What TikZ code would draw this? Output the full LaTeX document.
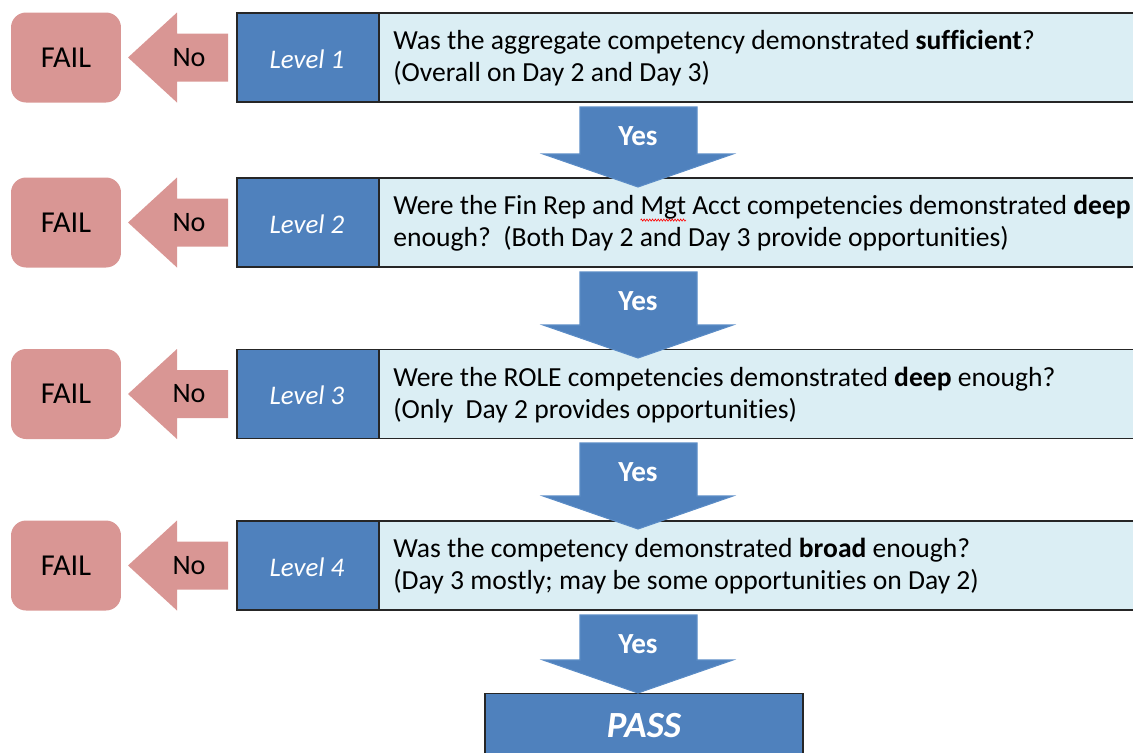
\documentclass[tikz,border=0pt]{standalone}
\usepackage{fontspec}
\setmainfont{Carlito}[Ligatures=NoCommon]
\usetikzlibrary{decorations.pathmorphing}
\newsavebox\wavebox
\newcommand\redwave[1]{\leavevmode\sbox\wavebox{#1}\rlap{\tikz[x=1pt,y=1pt,baseline=0pt,overlay]\draw[red,line width=0.35pt,decorate,decoration={zigzag,amplitude=0.6pt,segment length=1.6pt}] (0pt,-3pt) -- (\the\wd\wavebox,-3pt);}\usebox\wavebox}
\definecolor{levelblue}{HTML}{4F81BD}
\definecolor{qblue}{HTML}{DBEEF4}
\definecolor{failpink}{HTML}{D99694}
\definecolor{yesedge}{HTML}{5B8CC6}
\tikzset{
  levelbox/.style={draw=black!85, line width=0.8pt, fill=levelblue, minimum width=2.84cm, minimum height=1.78cm, inner sep=0pt},
  leveltext/.style={text=white, inner sep=0pt, font=\fontsize{15.3}{18}\selectfont\itshape},
  qbox/.style={draw=black!85, line width=0.8pt, fill=qblue, anchor=west, minimum width=15.2cm, minimum height=1.78cm, inner sep=0pt},
  qtext/.style={anchor=west, align=left, inner sep=0pt, font=\fontsize{15.7}{18.2}\selectfont},
  failbox/.style={fill=failpink, rounded corners=0.3cm, minimum width=2.2cm, minimum height=1.8cm, inner sep=0pt, font=\fontsize{17.3}{20}\selectfont},
  noarrow/.style={fill=failpink},
  notext/.style={font=\fontsize{16}{19}\selectfont, inner sep=0pt},
  yesarrow/.style={fill=levelblue, draw=yesedge, line width=0.6pt, line join=miter},
  yestext/.style={font=\fontsize{16.6}{19}\selectfont\bfseries, text=white, inner sep=0pt},
  passbox/.style={draw=black!85, line width=0.8pt, fill=levelblue, anchor=north, minimum width=6.36cm, minimum height=1.4cm, inner sep=0pt},
}
\begin{document}
\begin{tikzpicture}[x=0.02cm,y=-0.02cm]
\useasboundingbox (0,0) rectangle (1133,752);
\clip (0,0) rectangle (1133,752);
% question boxes
\node[qbox] (q1) at (379,57.5) {};
\node[qbox] (q2) at (379,222.5) {};
\node[qbox] (q3) at (379,394) {};
\node[qbox] (q4) at (379,565.5) {};
% level boxes
\node[levelbox] (l1) at (308,57.5) {};
\node[levelbox] (l2) at (308,222.5) {};
\node[levelbox] (l3) at (308,394) {};
\node[levelbox] (l4) at (308,565.5) {};
\node[leveltext] (lt1) at (307,59) {Level 1};
\node[leveltext] (lt2) at (307,224) {Level 2};
\node[leveltext] (lt3) at (307,395.5) {Level 3};
\node[leveltext] (lt4) at (307,567) {Level 4};
% question texts
\node[qtext] (t1) at (393,58.5) {Was the aggregate competency demonstrated \textbf{sufficient}?\\(Overall on Day 2 and Day 3)};
\node[qtext] (t2) at (393,223.5) {Were the Fin Rep and \redwave{Mgt} Acct competencies demonstrated \textbf{deep}\\enough?\ \ (Both Day 2 and Day 3 provide opportunities)};
\node[qtext] (t3) at (393,395) {Were the ROLE competencies demonstrated \textbf{deep} enough?\\(Only\ \ Day 2 provides opportunities)};
\node[qtext] (t4) at (393,566.5) {Was the competency demonstrated \textbf{broad} enough?\\(Day 3 mostly; may be some opportunities on Day 2)};
% fail side
\foreach \c/\n in {57.5/1,222.5/2,394/3,565.5/4}{
  \node[failbox] (f\n) at (66,\c) {FAIL};
  \fill[noarrow] (128,\c) -- (177,\c-45) -- (177,\c-24) -- (228,\c-24) -- (228,\c+24) -- (177,\c+24) -- (177,\c+45) -- cycle;
  \node[notext] (no\n) at (189,\c) {No};
}
% pass box
\node[passbox] (pass) at (644,693) {};
\node[font=\fontsize{21}{25}\selectfont\bfseries\itshape, text=white, inner sep=0pt] (passt) at (644,726) {PASS};
% yes arrows
\foreach \s/\t/\n in {107/187/1,272/358/2,443/529/3,615/693/4}{
  \draw[yesarrow] (580,\s) -- (697,\s) -- (697,\t-33) -- (733,\t-33) -- (638,\t) -- (543,\t-33) -- (580,\t-33) -- cycle;
  \node[yestext] (y\n) at (638,\s+29) {Yes};
}
\end{tikzpicture}
\end{document}
